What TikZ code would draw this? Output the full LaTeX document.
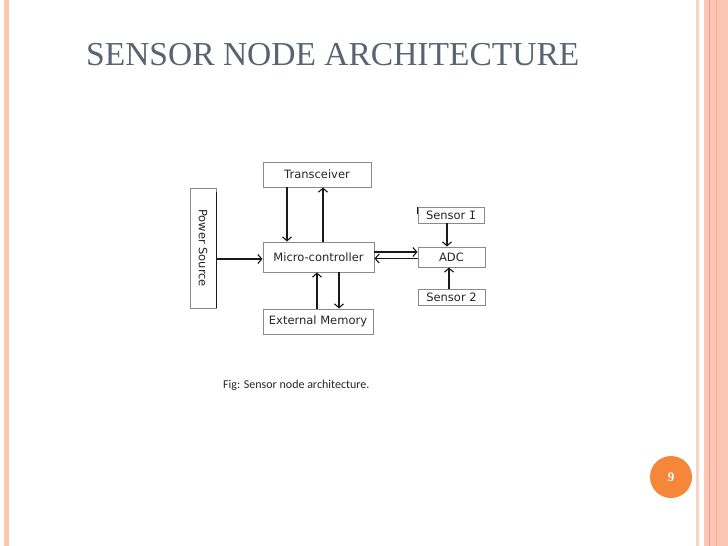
\documentclass[tikz,border=0pt]{standalone}
\usepackage{fontspec}
\usetikzlibrary{arrows.meta}
\newfontfamily\dvfont{DejaVu Sans}
\newfontfamily\dvmono{DejaVu Sans Mono}
\newfontfamily\titlefont{Liberation Serif}
\newfontfamily\capfont{Carlito}
\definecolor{titlegray}{HTML}{5A6372}
\definecolor{stripe}{HTML}{FCC6B4}
\definecolor{stripelight}{HTML}{F9D3C7}
\definecolor{stripedark}{HTML}{EE9E7C}
\definecolor{pageorange}{HTML}{F5873A}
\definecolor{boxgray}{HTML}{8A8A8A}
\tikzset{
  blk/.style={draw=boxgray, line width=0.9pt, rectangle, inner sep=1pt,
    font=\dvfont\fontsize{11.5}{13}\selectfont, text=black!85},
  arr/.style={draw=black!90, line width=1.1pt, -{Straight Barb[length=4pt,width=9pt]}},
}
\begin{document}
\begin{tikzpicture}[x=1pt,y=-1pt]
\useasboundingbox (0,0) rectangle (728,546);
\fill[white] (0,0) rectangle (728,546);
% slide borders
\fill[stripe] (4,0) rectangle (9,546);
\fill[stripelight] (696,0) rectangle (699,546);
\fill[stripe] (704,0) rectangle (728,546);
\fill[stripedark] (708.5,0) rectangle (709.5,546);
\fill[stripedark!60!stripe] (715.5,0) rectangle (716.5,546);
% title
\node[anchor=west, text=titlegray, font=\titlefont\fontsize{33.5}{36}\selectfont, inner sep=0pt] (title) at (86,55) {SENSOR NODE ARCHITECTURE};
% blocks
\node[blk, minimum width=108, minimum height=25] (tr) at (317,174.5) {Transceiver};
\node[blk, minimum width=111, minimum height=30] (mc) at (318.5,257) {Micro-controller};
\node[blk, minimum width=110, minimum height=25] (mem) at (318,321.5) {External Memory};
\node[blk, minimum width=120, minimum height=26, rotate=-90] (pw) at (203,248) {Power Source};
\node[blk, minimum width=67, minimum height=20] (adc) at (451.5,257) {ADC};
\node[blk, minimum width=66, minimum height=16] (s1) at (451,215) {Sensor {\dvmono I}};
\node[blk, minimum width=67, minimum height=16] (s2) at (451.5,297) {Sensor 2};
% extra hand-drawn strokes
\draw[black!90, line width=1.1pt] ([yshift=-4]pw.north west) -- (pw.north east);
\draw[black!90, line width=1pt] (s1.north west) -- ([yshift=-7]s1.north west);
% connectors
\draw[arr] ([xshift=-30]tr.south) -- ([xshift=-31.5]mc.north);
\draw[arr] ([xshift=4.5]mc.north) -- ([xshift=6]tr.south);
\draw[arr] ([yshift=-11]pw.north) -- ([yshift=-2]mc.west);
\draw[arr] ([xshift=-1]mem.north) -- ([xshift=-1.5]mc.south);
\draw[arr] ([xshift=20.5]mc.south) -- ([xshift=21]mem.north);
\draw[arr] ([yshift=5]mc.east) -- ([yshift=5]adc.west);
\draw[arr] ([yshift=-1.5]adc.west) -- ([yshift=-1.5]mc.east);
\draw[arr] ([xshift=-4]s1.south) -- ([xshift=-4.5]adc.north);
\draw[arr] ([xshift=-2.5]s2.north) -- ([xshift=-2.5]adc.south);
% caption
\node[anchor=west, font=\capfont\fontsize{12}{14}\selectfont, text=black!85, inner sep=0pt] (cap) at (223,385) {Fig: Sensor node architecture.};
% page number
\node[circle, fill=pageorange, minimum size=42, inner sep=0pt, text=white, font=\titlefont\bfseries\fontsize{13}{14}\selectfont] (pg) at (671,477) {9};
\end{tikzpicture}
\end{document}
